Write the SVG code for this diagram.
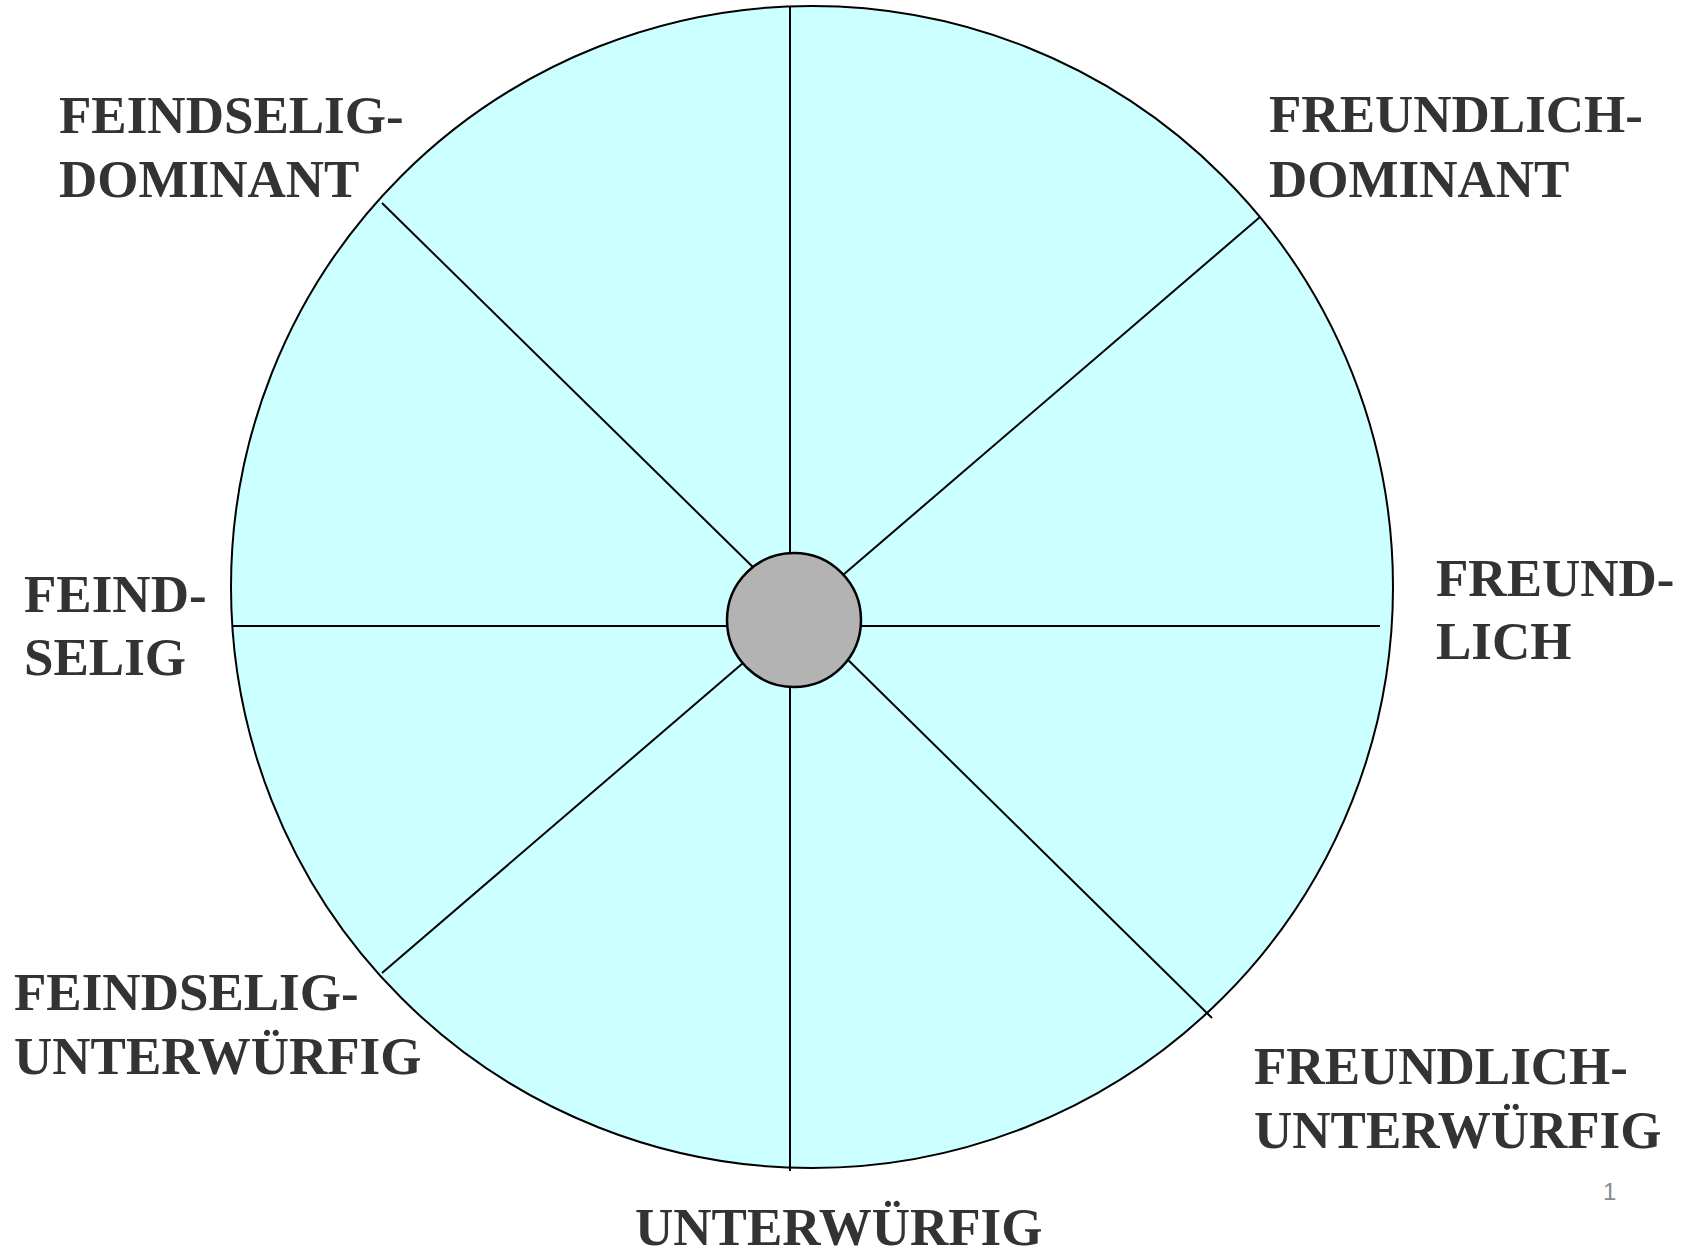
<svg xmlns="http://www.w3.org/2000/svg" width="1691" height="1255" viewBox="0 0 1691 1255">
<style>
.lbl{font-family:"Liberation Serif","Times New Roman",serif;font-weight:bold;font-size:53px;fill:#333333}
.spoke{stroke:#000;stroke-width:2;fill:none}
.pg{font-family:"Liberation Sans",Arial,sans-serif;font-size:24px;fill:#8a8a8a}
</style>
<rect width="1691" height="1255" fill="#ffffff"/>
<g id="wheel"><circle cx="812" cy="587" r="581" fill="#ccffff" stroke="#000" stroke-width="2"/></g>
<g id="connectors">
<line class="spoke" x1="790" y1="6" x2="790" y2="1171"/>
<line class="spoke" x1="232" y1="626" x2="1380" y2="626"/>
<line class="spoke" x1="382" y1="203" x2="760" y2="574"/>
<line class="spoke" x1="1260" y1="217" x2="836" y2="581"/>
<line class="spoke" x1="382" y1="973" x2="750" y2="657"/>
<line class="spoke" x1="1212" y1="1018" x2="840" y2="652"/>
</g>
<g id="hub"><circle cx="794" cy="620" r="67" fill="#b3b3b3" stroke="#000" stroke-width="2.5"/></g>
<g id="label-fd"><text class="lbl" x="59" y="133">FEINDSELIG-</text><text class="lbl" x="59" y="197">DOMINANT</text></g>
<g id="label-frd"><text class="lbl" x="1269" y="132">FREUNDLICH-</text><text class="lbl" x="1269" y="197">DOMINANT</text></g>
<g id="label-f"><text class="lbl" x="24" y="612">FEIND-</text><text class="lbl" x="24" y="675">SELIG</text></g>
<g id="label-fr"><text class="lbl" x="1436" y="596">FREUND-</text><text class="lbl" x="1436" y="659">LICH</text></g>
<g id="label-fu"><text class="lbl" x="14" y="1010">FEINDSELIG-</text><text class="lbl" x="14" y="1074">UNTERWÜRFIG</text></g>
<g id="label-fru"><text class="lbl" x="1254" y="1084">FREUNDLICH-</text><text class="lbl" x="1254" y="1148">UNTERWÜRFIG</text></g>
<g id="label-u"><text class="lbl" x="635" y="1245">UNTERWÜRFIG</text></g>
<g id="page"><text class="pg" x="1603" y="1200">1</text></g>
</svg>
